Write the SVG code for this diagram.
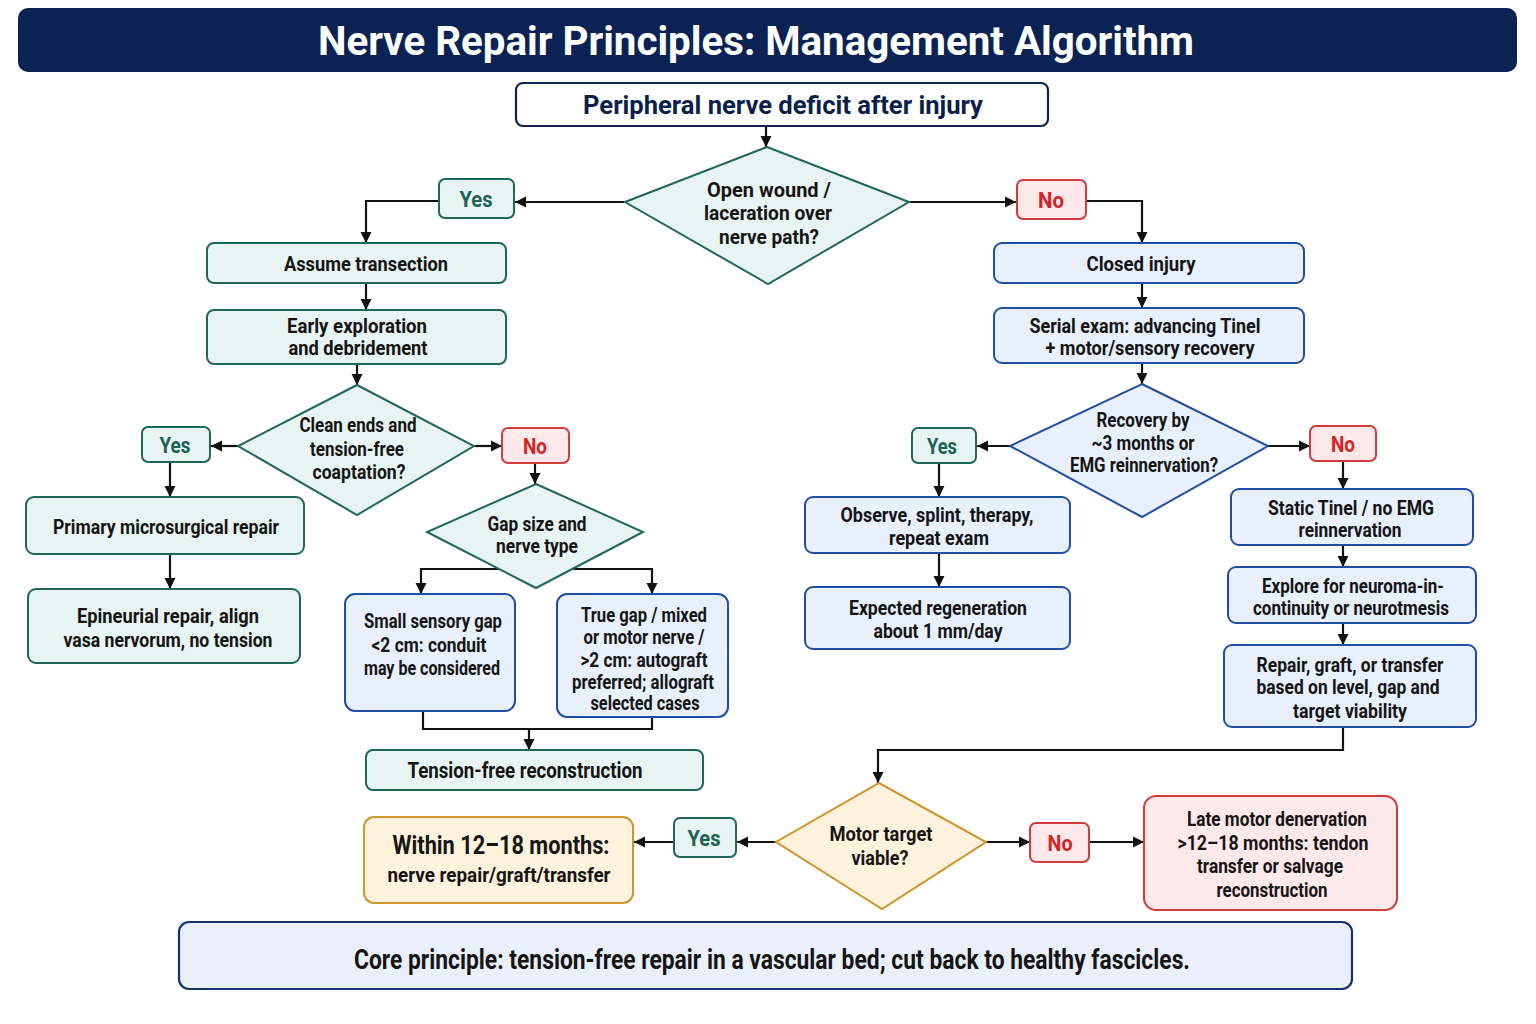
<svg xmlns="http://www.w3.org/2000/svg" width="1536" height="1024" viewBox="0 0 1536 1024">
<defs>
<marker id="ah" markerUnits="userSpaceOnUse" markerWidth="12" markerHeight="12" refX="11" refY="6" orient="auto">
<path d="M0,0.5 L11,6 L0,11.5 z" fill="#111"/>
</marker>
<style>
.t{font-family:Roboto,"Liberation Sans",sans-serif;font-weight:700;fill:#151515;text-anchor:middle;font-size:20px}
.lb{font-size:22px}
.ty{fill:#1d6256}
.tn{fill:#d42424}
.teal{fill:#e7f4f2;stroke:#1f665b;stroke-width:2}
.blue{fill:#e7f0fc;stroke:#1f4ea3;stroke-width:2}
.red{fill:#fde9e9;stroke:#d23b3b;stroke-width:2}
.org{fill:#fdf2dc;stroke:#cf942c;stroke-width:2}
.c{fill:none;stroke:#111;stroke-width:2.2}
</style>
</defs>
<rect width="1536" height="1024" fill="#ffffff"/>

<g id="title">
<rect x="18" y="8" width="1499" height="64" rx="10" fill="#0b2354"/>
<text class="t" x="756" y="55" style="font-size:40px;fill:#ffffff" textLength="876" lengthAdjust="spacingAndGlyphs">Nerve Repair Principles: Management Algorithm</text>
</g>

<g id="connectors">
<path class="c" d="M766,126 V147" marker-end="url(#ah)"/>
<path class="c" d="M624,202 H515" marker-end="url(#ah)"/>
<path class="c" d="M439,201 H366 V243" marker-end="url(#ah)"/>
<path class="c" d="M910,202 H1016" marker-end="url(#ah)"/>
<path class="c" d="M1086,201 H1142 V243" marker-end="url(#ah)"/>
<path class="c" d="M366,283 V310" marker-end="url(#ah)"/>
<path class="c" d="M357,364 V385" marker-end="url(#ah)"/>
<path class="c" d="M238,446 H211" marker-end="url(#ah)"/>
<path class="c" d="M170,462 V497" marker-end="url(#ah)"/>
<path class="c" d="M170,554 V589" marker-end="url(#ah)"/>
<path class="c" d="M475,446 H502" marker-end="url(#ah)"/>
<path class="c" d="M535,463 V484" marker-end="url(#ah)"/>
<path class="c" d="M502,569 H421 V594" marker-end="url(#ah)"/>
<path class="c" d="M570,569 H652 V594" marker-end="url(#ah)"/>
<path class="c" d="M423,711 V729 H652 V717"/>
<path class="c" d="M529,729 V750" marker-end="url(#ah)"/>
<path class="c" d="M1142,283 V308" marker-end="url(#ah)"/>
<path class="c" d="M1142,363 V384" marker-end="url(#ah)"/>
<path class="c" d="M1010,446 H977" marker-end="url(#ah)"/>
<path class="c" d="M939,463 V497" marker-end="url(#ah)"/>
<path class="c" d="M939,553 V587" marker-end="url(#ah)"/>
<path class="c" d="M1268,446 H1310" marker-end="url(#ah)"/>
<path class="c" d="M1343,461 V489" marker-end="url(#ah)"/>
<path class="c" d="M1343,545 V567" marker-end="url(#ah)"/>
<path class="c" d="M1343,623 V645" marker-end="url(#ah)"/>
<path class="c" d="M1343,727 V750 H878 V783" marker-end="url(#ah)"/>
<path class="c" d="M776,842 H737" marker-end="url(#ah)"/>
<path class="c" d="M674,842 H634" marker-end="url(#ah)"/>
<path class="c" d="M986,842 H1030" marker-end="url(#ah)"/>
<path class="c" d="M1089,842 H1144" marker-end="url(#ah)"/>
</g>

<g id="start">
<rect x="516" y="83" width="532" height="43" rx="7" fill="#ffffff" stroke="#0b2354" stroke-width="2.2"/>
<text class="t" x="783" y="114" style="font-size:26px;fill:#0b1f4d" textLength="400" lengthAdjust="spacingAndGlyphs">Peripheral nerve deficit after injury</text>
</g>

<g id="d-open">
<polygon class="teal" points="767,147 909,202 768,284 625,202"/>
<text class="t" x="769" y="197" textLength="124" lengthAdjust="spacingAndGlyphs">Open wound /</text>
<text class="t" x="768" y="220" textLength="128" lengthAdjust="spacingAndGlyphs">laceration over</text>
<text class="t" x="769" y="244" textLength="100" lengthAdjust="spacingAndGlyphs">nerve path?</text>
</g>

<g id="yes1">
<rect class="teal" x="439" y="179" width="75" height="39" rx="6"/>
<text class="t lb ty" x="476" y="207" textLength="33" lengthAdjust="spacingAndGlyphs">Yes</text>
</g>

<g id="no1">
<rect class="red" x="1017" y="180" width="69" height="39" rx="6"/>
<text class="t lb tn" x="1051" y="208" textLength="26" lengthAdjust="spacingAndGlyphs">No</text>
</g>

<g id="assume">
<rect class="teal" x="207" y="243" width="299" height="40" rx="7"/>
<text class="t" x="366" y="271" textLength="164" lengthAdjust="spacingAndGlyphs">Assume transection</text>
</g>

<g id="early">
<rect class="teal" x="207" y="310" width="299" height="54" rx="7"/>
<text class="t" x="357" y="333" textLength="140" lengthAdjust="spacingAndGlyphs">Early exploration</text>
<text class="t" x="358" y="355" textLength="139" lengthAdjust="spacingAndGlyphs">and debridement</text>
</g>

<g id="d-clean">
<polygon class="teal" points="357,385 474,446 357,515 238,446"/>
<text class="t" x="358" y="432" textLength="117" lengthAdjust="spacingAndGlyphs">Clean ends and</text>
<text class="t" x="357" y="456" textLength="94" lengthAdjust="spacingAndGlyphs">tension-free</text>
<text class="t" x="359" y="479" textLength="93" lengthAdjust="spacingAndGlyphs">coaptation?</text>
</g>

<g id="yes2">
<rect class="teal" x="142" y="427" width="68" height="35" rx="6"/>
<text class="t lb ty" x="175" y="453" textLength="31" lengthAdjust="spacingAndGlyphs">Yes</text>
</g>

<g id="primary">
<rect class="teal" x="26" y="497" width="278" height="57" rx="8"/>
<text class="t" x="166" y="534" textLength="226" lengthAdjust="spacingAndGlyphs">Primary microsurgical repair</text>
</g>

<g id="epineurial">
<rect class="teal" x="28" y="589" width="272" height="74" rx="8"/>
<text class="t" x="168" y="623" textLength="182" lengthAdjust="spacingAndGlyphs">Epineurial repair, align</text>
<text class="t" x="168" y="647" textLength="209" lengthAdjust="spacingAndGlyphs">vasa nervorum, no tension</text>
</g>

<g id="no2">
<rect class="red" x="502" y="428" width="67" height="35" rx="6"/>
<text class="t lb tn" x="535" y="454" textLength="24" lengthAdjust="spacingAndGlyphs">No</text>
</g>

<g id="d-gap">
<polygon class="teal" points="536,484 643,532 536,588 427,532"/>
<text class="t" x="537" y="531" textLength="99" lengthAdjust="spacingAndGlyphs">Gap size and</text>
<text class="t" x="537" y="553" textLength="82" lengthAdjust="spacingAndGlyphs">nerve type</text>
</g>

<g id="small">
<rect class="blue" x="345" y="594" width="170" height="117" rx="10"/>
<text class="t" x="433" y="628" textLength="138" lengthAdjust="spacingAndGlyphs">Small sensory gap</text>
<text class="t" x="429" y="652" textLength="115" lengthAdjust="spacingAndGlyphs">&lt;2 cm: conduit</text>
<text class="t" x="432" y="675" textLength="136" lengthAdjust="spacingAndGlyphs">may be considered</text>
</g>

<g id="truegap">
<rect class="blue" x="557" y="594" width="171" height="123" rx="10"/>
<text class="t" x="644" y="622" textLength="126" lengthAdjust="spacingAndGlyphs">True gap / mixed</text>
<text class="t" x="644" y="644" textLength="121" lengthAdjust="spacingAndGlyphs">or motor nerve /</text>
<text class="t" x="644" y="667" textLength="127" lengthAdjust="spacingAndGlyphs">&gt;2 cm: autograft</text>
<text class="t" x="643" y="689" textLength="142" lengthAdjust="spacingAndGlyphs">preferred; allograft</text>
<text class="t" x="645" y="710" textLength="109" lengthAdjust="spacingAndGlyphs">selected cases</text>
</g>

<g id="tensionfree">
<rect class="teal" x="366" y="750" width="337" height="40" rx="7"/>
<text class="t" x="525" y="778" style="font-size:22px" textLength="235" lengthAdjust="spacingAndGlyphs">Tension-free reconstruction</text>
</g>

<g id="closed">
<rect class="blue" x="994" y="243" width="310" height="40" rx="8"/>
<text class="t" x="1141" y="271" textLength="109" lengthAdjust="spacingAndGlyphs">Closed injury</text>
</g>

<g id="serial">
<rect class="blue" x="994" y="308" width="310" height="55" rx="8"/>
<text class="t" x="1145" y="333" textLength="231" lengthAdjust="spacingAndGlyphs">Serial exam: advancing Tinel</text>
<text class="t" x="1150" y="355" textLength="209" lengthAdjust="spacingAndGlyphs">+ motor/sensory recovery</text>
</g>

<g id="d-recovery">
<polygon class="blue" points="1142,384 1268,446 1142,517 1010,446"/>
<text class="t" x="1143" y="427" textLength="93" lengthAdjust="spacingAndGlyphs">Recovery by</text>
<text class="t" x="1143" y="450" textLength="103" lengthAdjust="spacingAndGlyphs">~3 months or</text>
<text class="t" x="1144" y="472" textLength="148" lengthAdjust="spacingAndGlyphs">EMG reinnervation?</text>
</g>

<g id="yes3">
<rect class="teal" x="912" y="428" width="64" height="35" rx="6"/>
<text class="t lb ty" x="942" y="454" textLength="30" lengthAdjust="spacingAndGlyphs">Yes</text>
</g>

<g id="observe">
<rect class="blue" x="805" y="497" width="265" height="56" rx="8"/>
<text class="t" x="937" y="522" textLength="193" lengthAdjust="spacingAndGlyphs">Observe, splint, therapy,</text>
<text class="t" x="939" y="545" textLength="100" lengthAdjust="spacingAndGlyphs">repeat exam</text>
</g>

<g id="expected">
<rect class="blue" x="805" y="587" width="265" height="62" rx="8"/>
<text class="t" x="938" y="615" textLength="178" lengthAdjust="spacingAndGlyphs">Expected regeneration</text>
<text class="t" x="938" y="638" textLength="129" lengthAdjust="spacingAndGlyphs">about 1 mm/day</text>
</g>

<g id="no3">
<rect class="red" x="1310" y="426" width="66" height="35" rx="6"/>
<text class="t lb tn" x="1343" y="452" textLength="24" lengthAdjust="spacingAndGlyphs">No</text>
</g>

<g id="static">
<rect class="blue" x="1231" y="489" width="242" height="56" rx="8"/>
<text class="t" x="1351" y="515" textLength="166" lengthAdjust="spacingAndGlyphs">Static Tinel / no EMG</text>
<text class="t" x="1350" y="537" textLength="103" lengthAdjust="spacingAndGlyphs">reinnervation</text>
</g>

<g id="explore">
<rect class="blue" x="1228" y="567" width="248" height="56" rx="8"/>
<text class="t" x="1353" y="593" textLength="182" lengthAdjust="spacingAndGlyphs">Explore for neuroma-in-</text>
<text class="t" x="1351" y="615" textLength="196" lengthAdjust="spacingAndGlyphs">continuity or neurotmesis</text>
</g>

<g id="repair">
<rect class="blue" x="1224" y="645" width="252" height="82" rx="8"/>
<text class="t" x="1350" y="672" textLength="187" lengthAdjust="spacingAndGlyphs">Repair, graft, or transfer</text>
<text class="t" x="1348" y="694" textLength="183" lengthAdjust="spacingAndGlyphs">based on level, gap and</text>
<text class="t" x="1350" y="718" textLength="114" lengthAdjust="spacingAndGlyphs">target viability</text>
</g>

<g id="d-motor">
<polygon class="org" points="879,783 986,842 882,909 776,842"/>
<text class="t" x="881" y="841" textLength="103" lengthAdjust="spacingAndGlyphs">Motor target</text>
<text class="t" x="880" y="865" textLength="57" lengthAdjust="spacingAndGlyphs">viable?</text>
</g>

<g id="yes4">
<rect class="teal" x="674" y="818" width="62" height="39" rx="6"/>
<text class="t lb ty" x="704" y="846" textLength="33" lengthAdjust="spacingAndGlyphs">Yes</text>
</g>

<g id="within">
<rect class="org" x="364" y="817" width="269" height="86" rx="10"/>
<text class="t" x="501" y="854" style="font-size:25px" textLength="217" lengthAdjust="spacingAndGlyphs">Within 12–18 months:</text>
<text class="t" x="499" y="882" style="font-size:21px" textLength="223" lengthAdjust="spacingAndGlyphs">nerve repair/graft/transfer</text>
</g>

<g id="no4">
<rect class="red" x="1030" y="823" width="59" height="39" rx="6"/>
<text class="t lb tn" x="1060" y="851" textLength="25" lengthAdjust="spacingAndGlyphs">No</text>
</g>

<g id="late">
<rect class="red" x="1144" y="796" width="253" height="114" rx="12"/>
<text class="t" x="1277" y="826" textLength="180" lengthAdjust="spacingAndGlyphs">Late motor denervation</text>
<text class="t" x="1273" y="850" textLength="191" lengthAdjust="spacingAndGlyphs">&gt;12–18 months: tendon</text>
<text class="t" x="1270" y="873" textLength="146" lengthAdjust="spacingAndGlyphs">transfer or salvage</text>
<text class="t" x="1272" y="897" textLength="111" lengthAdjust="spacingAndGlyphs">reconstruction</text>
</g>

<g id="core">
<rect x="179" y="922" width="1173" height="67" rx="10" fill="#e9f0fb" stroke="#16306b" stroke-width="2.2"/>
<text class="t" x="772" y="969" style="font-size:27px" textLength="836" lengthAdjust="spacingAndGlyphs">Core principle: tension-free repair in a vascular bed; cut back to healthy fascicles.</text>
</g>
</svg>
